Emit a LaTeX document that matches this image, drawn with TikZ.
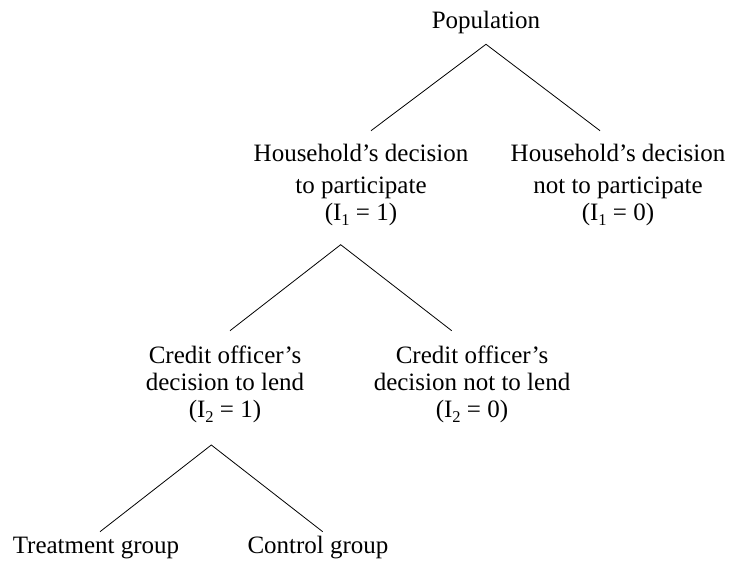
\documentclass[tikz,border=0pt]{standalone}
\usepackage{fontspec}
\setmainfont{Liberation Serif}
\usetikzlibrary{calc}
\newcommand{\stk}[1]{\begin{tabular}[t]{@{}c@{}}#1\end{tabular}}
\newcommand{\sbs}[1]{\raisebox{-4.7bp}{\fontsize{16.5bp}{16.5bp}\selectfont #1}}
\begin{document}
\begin{tikzpicture}[x=1bp,y=-1bp,
  lbl/.style={inner sep=0,anchor=base,font=\fontsize{25bp}{27bp}\selectfont},
  conn/.style={line width=0.8bp}]
\useasboundingbox (0,0) rectangle (731,562);
\node[lbl] (pop) at (486,28.3) {Population};
\node[lbl] (hh1) at (361,161.7) {\stk{Household’s decision\\[5.3bp] to participate\\ (I\sbs{1} = 1)}};
\node[lbl] (hh0) at (618,161.7) {\stk{Household’s decision\\[5.3bp] not to participate\\ (I\sbs{1} = 0)}};
\node[lbl] (cr1) at (225,363.3) {\stk{Credit officer’s\\ decision to lend\\ (I\sbs{2} = 1)}};
\node[lbl] (cr0) at (472,363.3) {\stk{Credit officer’s\\ decision not to lend\\ (I\sbs{2} = 0)}};
\node[lbl] (treat) at (96,553.3) {Treatment group};
\node[lbl] (ctrl) at (318,553.3) {Control group};
\coordinate (a1) at ($(pop.base)+(0,16)$);
\coordinate (b1) at ($(hh1.base)+(10,-31)$);
\coordinate (c1) at ($(hh0.base)+(-18,-31)$);
\coordinate (a2) at ($(hh1.base)+(-20.3,83)$);
\coordinate (b2) at ($(cr1.base)+(5,-32.6)$);
\coordinate (c2) at ($(cr0.base)+(-20.3,-32.6)$);
\coordinate (a3) at ($(cr1.base)+(-13.7,81.7)$);
\coordinate (b3) at ($(treat.base)+(4,-21.6)$);
\coordinate (c3) at ($(ctrl.base)+(4.7,-21.6)$);
\draw[conn] (b1) -- (a1) -- (c1);
\draw[conn] (b2) -- (a2) -- (c2);
\draw[conn] (b3) -- (a3) -- (c3);
\end{tikzpicture}
\end{document}
